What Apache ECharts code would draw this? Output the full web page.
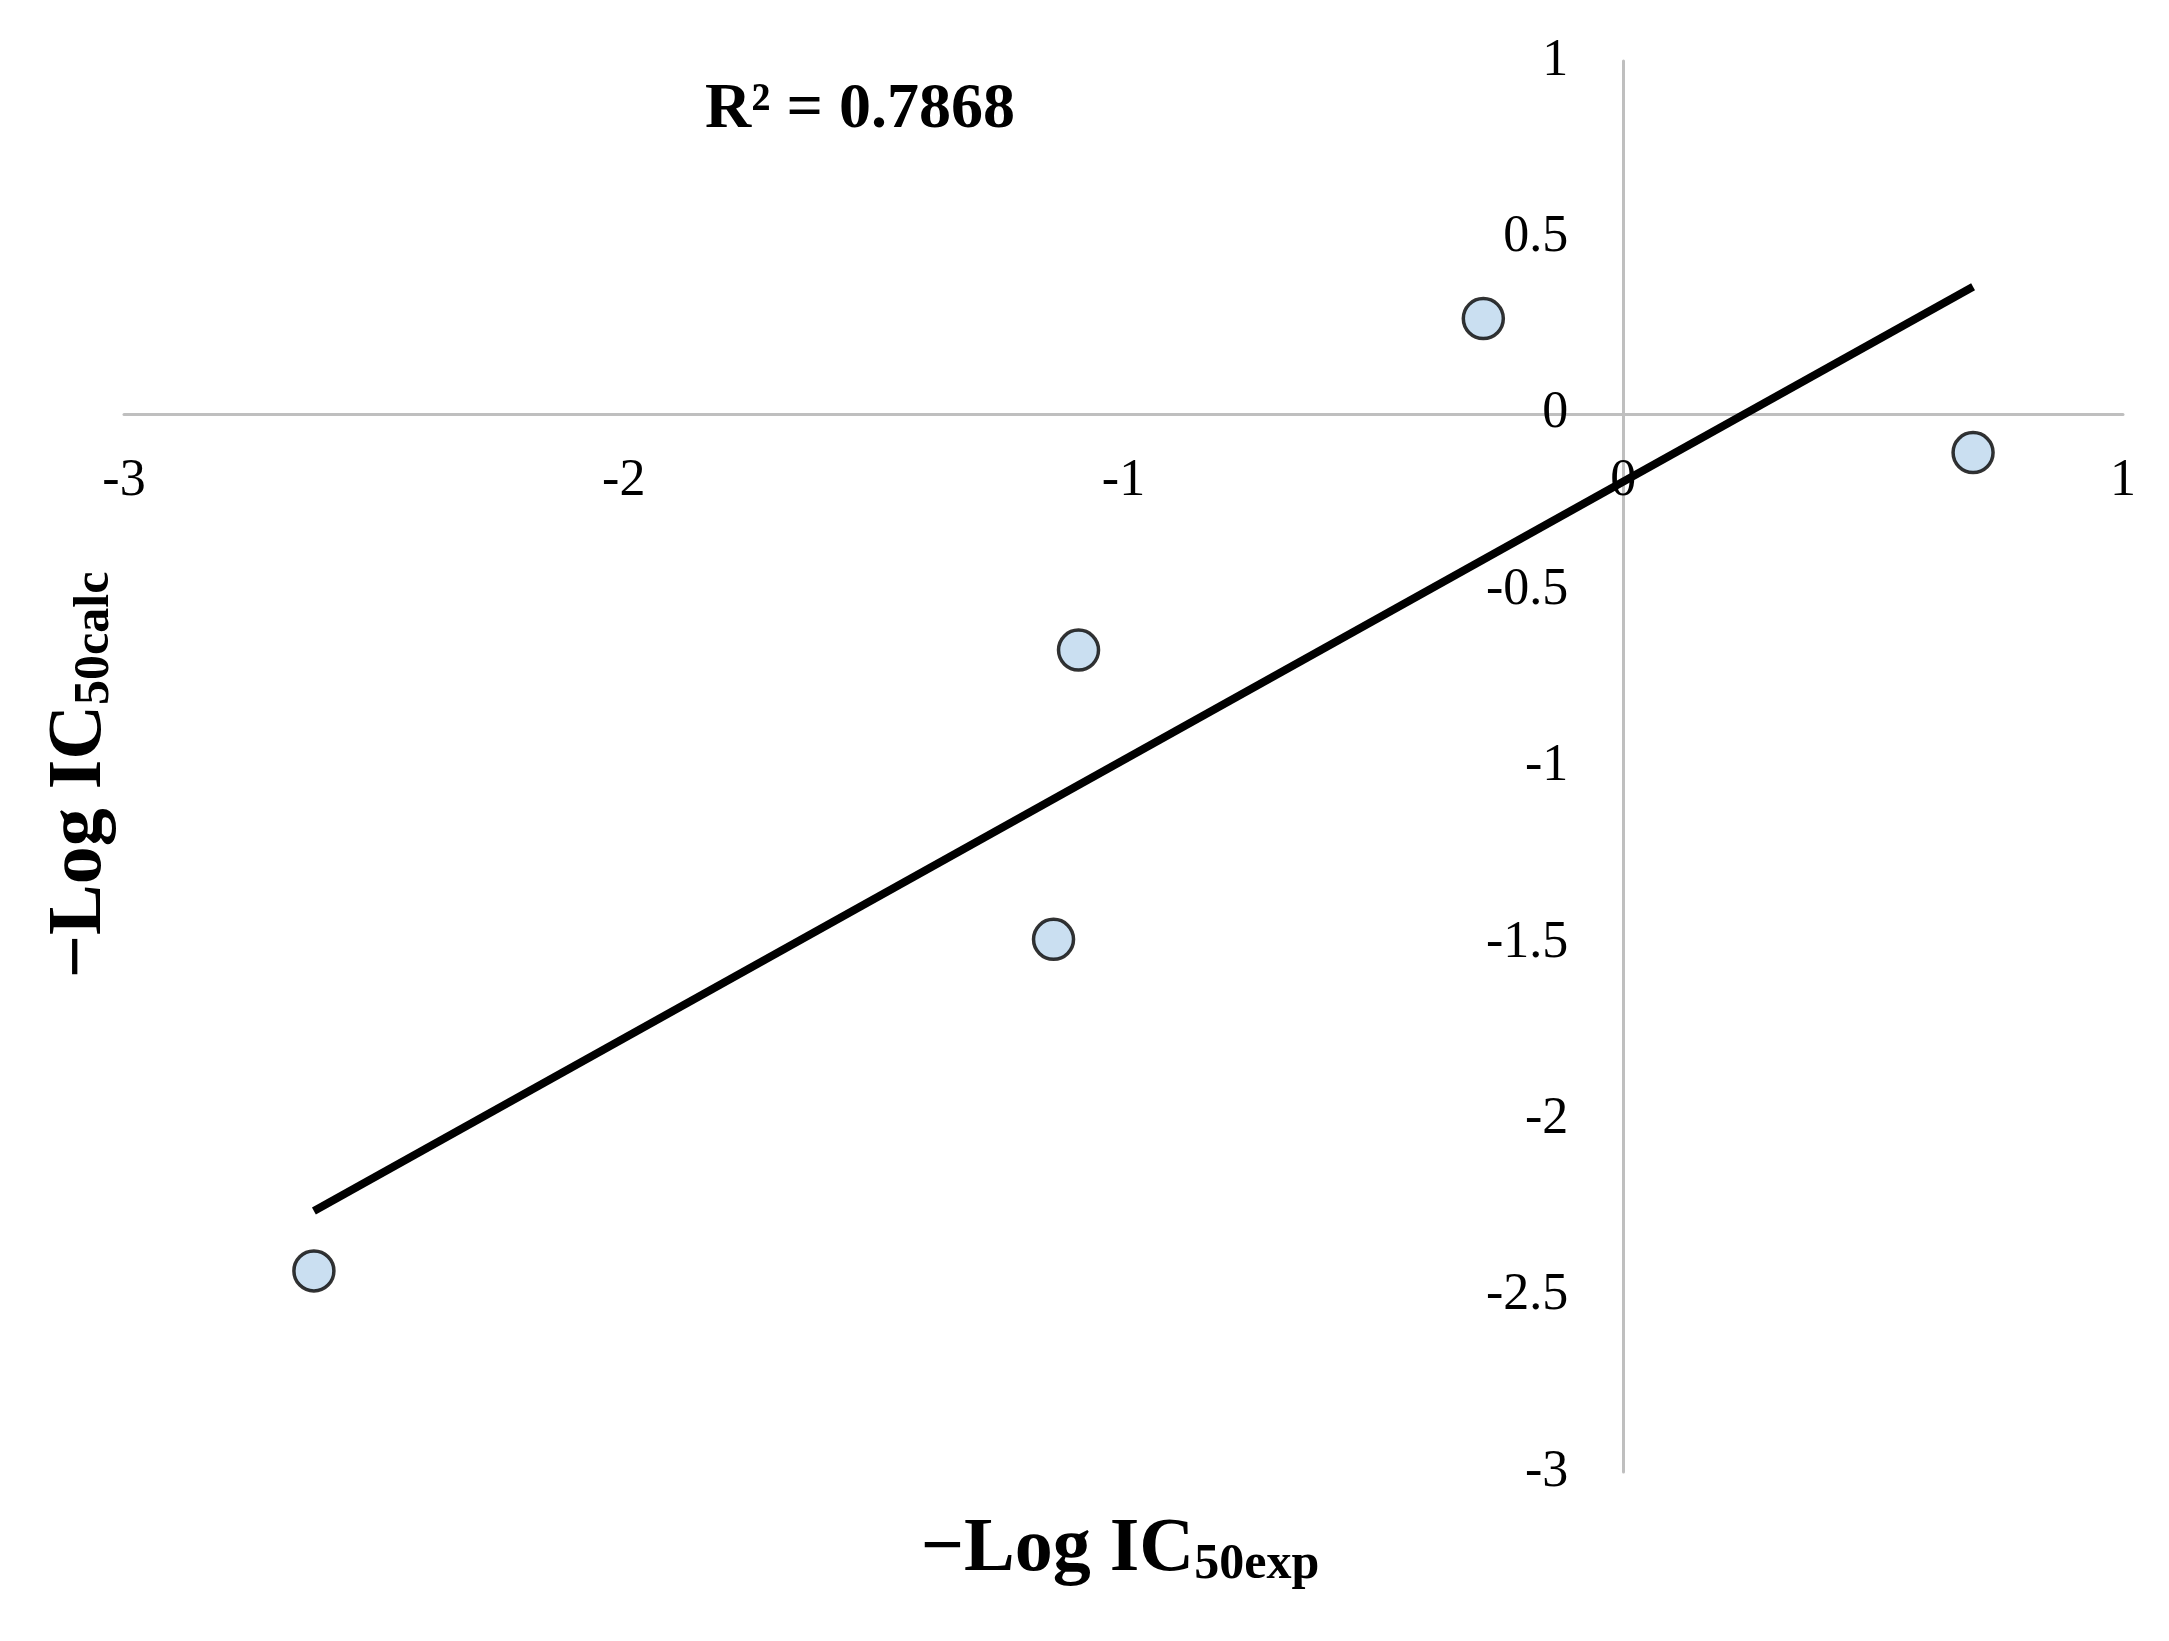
<!DOCTYPE html>
<html><head><meta charset="utf-8">
<script src="https://cdn.jsdelivr.net/npm/echarts@6/dist/echarts.min.js"></script>
<style>html,body{margin:0;padding:0;background:#fff}#c{width:2169px;height:1641px}</style>
</head><body><div id="c"></div>
<script>
const expValues = [-0.28, 0.70, -1.09, -1.14, -2.62];
const calcValues = [0.27, -0.11, -0.67, -1.49, -2.43];
const trendX = [-2.62, 0.70];
const trendY = [-2.26, 0.36];
const r2Text = 'R² = 0.7868';
const font = 'Liberation Serif';
const L = 124, R = 46, T = 61, B = 169, W = 2169, H = 1641;
const gw = W - L - R, gh = H - T - B;
const xZeroOffset = -(gw * 0.75);   // y axis sits at x=0
const yZeroOffset = -(gh * 0.75);   // x axis sits at y=0
const chart = echarts.init(document.getElementById('c'));
const rich = {
  a: {fontFamily: font, fontWeight: 'bold', fontSize: 76, color: '#000'},
  b: {fontFamily: font, fontWeight: 'bold', fontSize: 50, color: '#000', padding: [30, 0, 0, 0]}
};
chart.setOption({
  animation: false,
  backgroundColor: '#fff',
  grid: {left: L, right: R, top: T, bottom: B},
  xAxis: {type: 'value', min: -3, max: 1, interval: 1, position: 'bottom', offset: yZeroOffset,
    axisLine: {onZero: false, lineStyle: {color: '#bfbfbf', width: 3}},
    axisTick: {show: false}, splitLine: {show: false},
    axisLabel: {fontFamily: font, fontSize: 52, color: '#000', margin: 42,
      formatter: v => String(v)}},
  yAxis: {type: 'value', min: -3, max: 1, interval: 0.5, position: 'left', offset: xZeroOffset,
    axisLine: {onZero: false, lineStyle: {color: '#bfbfbf', width: 3}},
    axisTick: {show: false}, splitLine: {show: false},
    axisLabel: {fontFamily: font, fontSize: 52, color: '#000', margin: 55,
      formatter: v => String(v)}},
  series: [
    {type: 'line', data: trendX.map((x, i) => [x, trendY[i]]), symbol: 'none',
     lineStyle: {color: '#000', width: 8}, z: 2},
    {type: 'scatter', data: expValues.map((x, i) => [x, calcValues[i]]),
     symbol: 'circle', symbolSize: 40,
     itemStyle: {color: '#bdd7ee', borderColor: '#000', borderWidth: 3.5}, z: 3}
  ],
  graphic: [
    {type: 'text', left: 705, top: 78, style: {text: r2Text, fontFamily: font, fontWeight: 'bold', fontSize: 64, fill: '#000'}},
    {type: 'text', x: 1120, y: 1550, style: {text: '{a|−Log IC}{b|50exp}', rich: rich, align: 'center', verticalAlign: 'middle'}},
    {type: 'text', x: 80, y: 775, rotation: Math.PI/2, style: {text: '{a|−Log IC}{b|50calc}', rich: rich, align: 'center', verticalAlign: 'middle'}}
  ]
});
</script></body></html>
